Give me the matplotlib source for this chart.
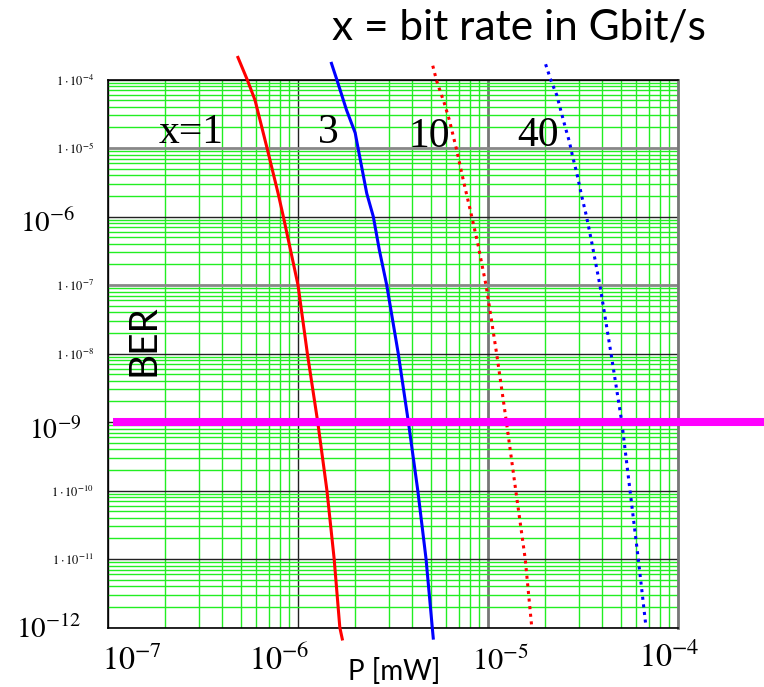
import numpy as np
import matplotlib.pyplot as plt
from matplotlib.ticker import LogLocator, FuncFormatter, NullFormatter

# BER vs received power P [mW]
# x = 1 Gbit/s
p_1 = [4.83e-7, 5.40e-7, 5.94e-7, 6.87e-7, 7.85e-7, 8.37e-7, 1.0e-6,
       1.12e-6, 1.27e-6, 1.42e-6, 1.55e-6, 1.66e-6, 1.71e-6]
ber_1 = [2.1e-4, 1e-4, 5e-5, 1e-5, 2.2e-6, 1e-6, 1e-7,
         1e-8, 1e-9, 1e-10, 1e-11, 1e-12, 6.8e-13]

# x = 3 Gbit/s
p_3 = [1.50e-6, 1.60e-6, 1.80e-6, 2.0e-6, 2.07e-6, 2.30e-6, 2.49e-6, 2.68e-6,
       2.93e-6, 3.37e-6, 3.81e-6, 4.27e-6, 4.72e-6, 5.09e-6, 5.15e-6]
ber_3 = [1.72e-4, 1e-4, 3.59e-5, 1.66e-5, 1e-5, 2.18e-6, 1e-6, 3.24e-7,
         1e-7, 1e-8, 1e-9, 1e-10, 1e-11, 1e-12, 7.0e-13]

# x = 10 Gbit/s
p_10 = [5.12e-6, 5.37e-6, 5.89e-6, 6.26e-6, 6.84e-6, 7.41e-6, 8.21e-6, 8.83e-6,
        9.76e-6, 1.11e-5, 1.25e-5, 1.40e-5, 1.57e-5, 1.70e-5]
ber_10 = [1.59e-4, 9.5e-5, 4.5e-5, 2.56e-5, 9.35e-6, 3.41e-6, 1e-6, 4.06e-7,
          1e-7, 1e-8, 1e-9, 1e-10, 1e-11, 1e-12]

# x = 40 Gbit/s
p_40 = [2.01e-5, 2.15e-5, 2.30e-5, 2.42e-5, 2.54e-5, 2.68e-5, 2.79e-5, 2.93e-5,
        3.11e-5, 3.30e-5, 3.51e-5, 3.88e-5, 4.44e-5, 5.06e-5, 5.59e-5, 6.18e-5, 6.79e-5]
ber_40 = [1.67e-4, 9.5e-5, 5.94e-5, 3.47e-5, 2.10e-5, 1.24e-5, 7.46e-6, 4.36e-6,
          2.01e-6, 1e-6, 4.29e-7, 1e-7, 1e-8, 1e-9, 1e-10, 1e-11, 1e-12]

# BER = 1e-9 limit line
p_limit = [1.06e-7, 3e-4]
ber_limit = [1e-9, 1e-9]

# axis ranges
p_min, p_max = 1e-7, 1e-4
ber_min, ber_max = 1e-12, 1e-4

plt.rcParams['mathtext.fontset'] = 'stix'
plt.rcParams['mathtext.default'] = 'rm'

W, H = 764, 687
fig = plt.figure(figsize=(W / 100, H / 100), dpi=100)
ax = fig.add_axes([108 / W, 1 - 627.5 / H, 570 / W, 548 / H])

ax.set_xscale('log')
ax.set_yscale('log')
ax.set_xlim(p_min, p_max)
ax.set_ylim(ber_min, ber_max)

# grid
ax.xaxis.set_major_locator(LogLocator(base=10, numticks=10))
ax.xaxis.set_minor_locator(LogLocator(base=10, subs=np.arange(2, 10), numticks=20))
ax.yaxis.set_major_locator(LogLocator(base=10, numticks=20))
ax.yaxis.set_minor_locator(LogLocator(base=10, subs=np.arange(2, 10), numticks=40))
ax.grid(which='minor', color='#22ee22', lw=1.0)
ax.grid(which='major', color='#222222', lw=1.0)
ax.set_axisbelow(True)
ax.tick_params(which='both', length=0)
ax.xaxis.set_major_formatter(NullFormatter())
ax.xaxis.set_minor_formatter(NullFormatter())
ax.yaxis.set_minor_formatter(NullFormatter())


def ylab(v, pos):
    if v < ber_min * 0.99 or v > ber_max * 1.01:
        return ''
    e = int(round(np.log10(v)))
    if e in (-6, -9, -12):
        return ''
    return r'$1\cdot10^{%d}$' % e


ax.yaxis.set_major_formatter(FuncFormatter(ylab))
ax.tick_params(axis='y', labelsize=9, pad=10)
for s in ax.spines.values():
    s.set_color('black')
    s.set_linewidth(1.2)
ax.spines['right'].set_color('#777777')
ax.spines['right'].set_linewidth(2)

# curves
ax.plot(p_1, ber_1, color='red', lw=2.2, clip_on=False, zorder=3)
ax.plot(p_3, ber_3, color='blue', lw=2.2, clip_on=False, zorder=3)
ax.plot(p_10, ber_10, color='red', lw=2.2, ls=(0, (1, 1.5)), clip_on=False, zorder=3)
ax.plot(p_40, ber_40, color='blue', lw=2.2, ls=(0, (1, 1.5)), clip_on=False, zorder=3)
ax.plot(p_limit, ber_limit, color='#ff00ff', lw=5.8, solid_capstyle='butt',
        clip_on=False, zorder=4)


def px(x, y):
    return x / W, 1 - y / H


serif = 'Liberation Serif'
sans = 'Lato'

# curve labels
fig.text(*px(159, 143), 'x=1', family=serif, fontsize=30, ha='left', va='baseline')
fig.text(*px(328.5, 143), '3', family=serif, fontsize=30, ha='center', va='baseline')
fig.text(*px(429, 147), '10', family=serif, fontsize=30, ha='center', va='baseline')
fig.text(*px(538, 146), '40', family=serif, fontsize=30, ha='center', va='baseline')

# big decade labels pasted on the axes
fig.text(*px(48, 224), r'$10^{-6}$', fontsize=21, ha='center', va='center')
fig.text(*px(55, 431), r'$10^{-9}$', fontsize=20, ha='center', va='center')
fig.text(*px(49, 630), r'$10^{-12}$', fontsize=21, ha='center', va='center')
fig.text(*px(132, 661), r'$10^{-7}$', fontsize=23, ha='center', va='center')
fig.text(*px(279, 661), r'$10^{-6}$', fontsize=23, ha='center', va='center')
fig.text(*px(500, 661), r'$10^{-5}$', fontsize=22, ha='center', va='center')
fig.text(*px(669, 658), r'$10^{-4}$', fontsize=23, ha='center', va='center')

# titles
fig.text(*px(332, 40), 'x = bit rate in Gbit/s', family=sans, fontsize=30.5,
         ha='left', va='baseline')
fig.text(*px(144, 340), 'BER', family=sans, fontsize=28,
         rotation=90, ha='center', va='center')
fig.text(*px(348, 680), 'P [mW]', family=sans, fontsize=20,
         ha='left', va='baseline')

# some decade lines are drawn gray and thicker in the original
fig.canvas.draw()
ylocs = ax.yaxis.get_majorticklocs()
for loc, t in zip(ylocs, ax.yaxis.get_major_ticks(len(ylocs))):
    if round(np.log10(loc)) in (-5, -7):
        t.gridline.set_color('#888888')
        t.gridline.set_linewidth(2)
xlocs = ax.xaxis.get_majorticklocs()
for loc, t in zip(xlocs, ax.xaxis.get_major_ticks(len(xlocs))):
    if round(np.log10(loc)) == -5:
        t.gridline.set_color('#777777')
        t.gridline.set_linewidth(2)

fig.savefig('out.png', dpi=100)
